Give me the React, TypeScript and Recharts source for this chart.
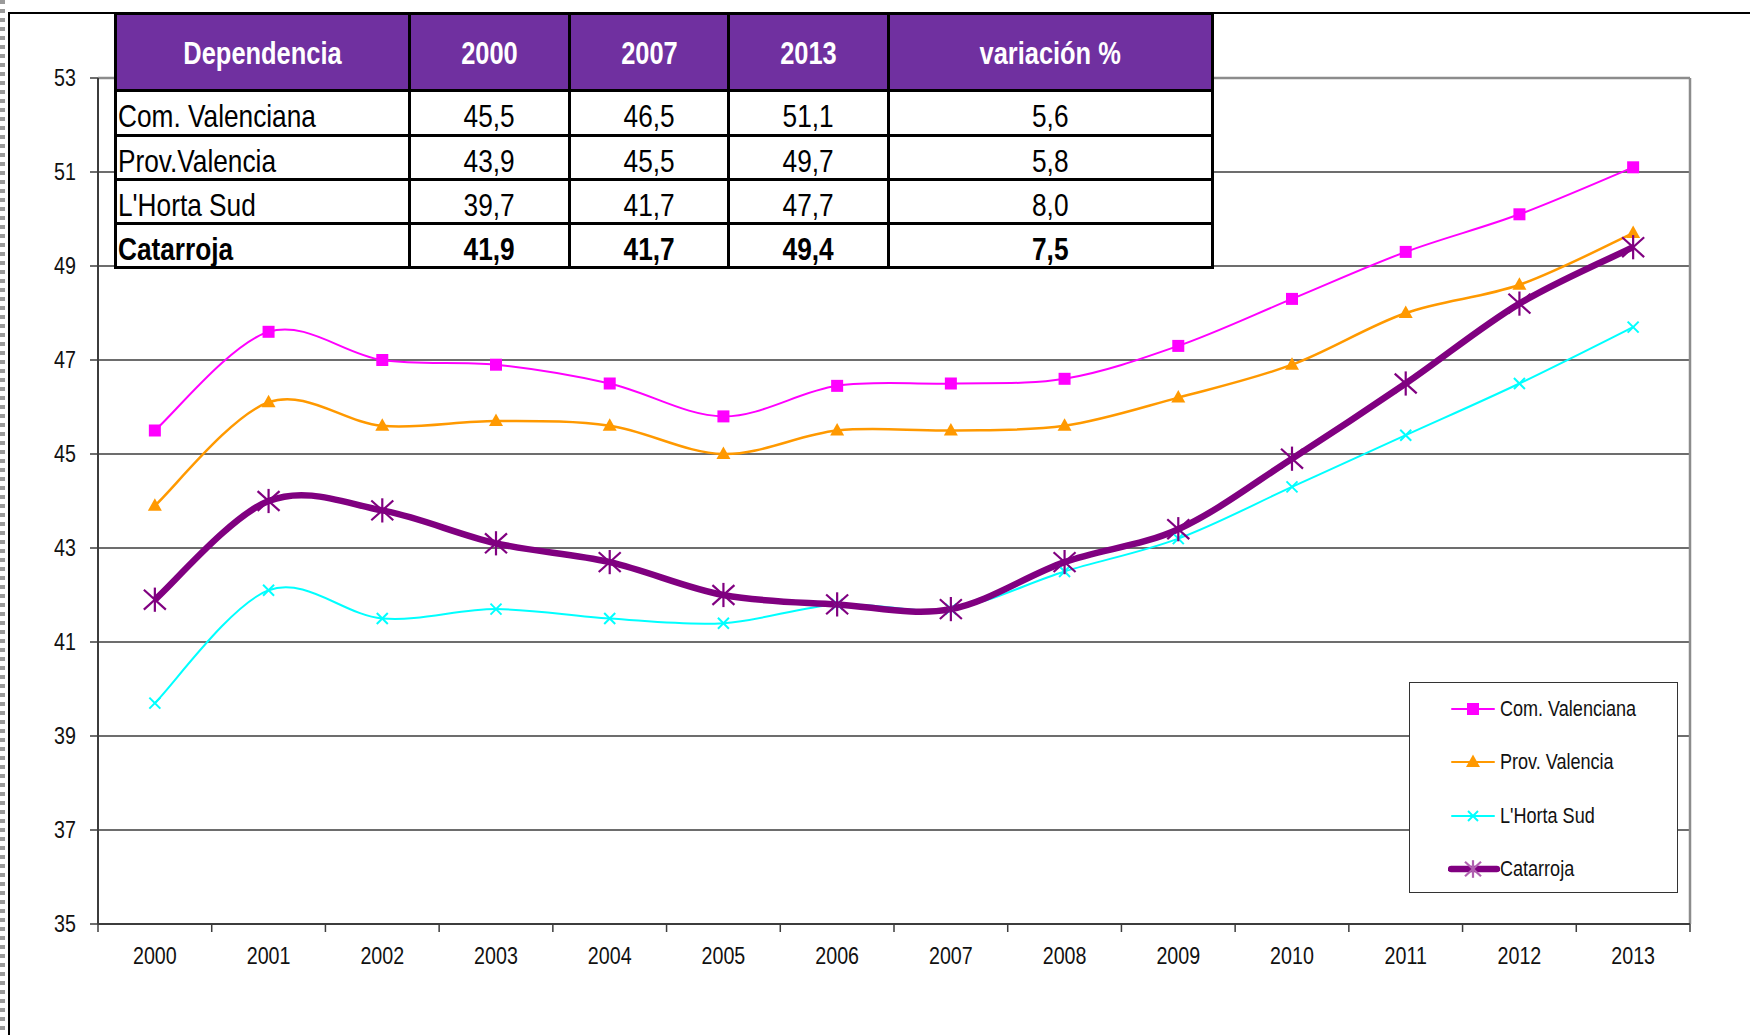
import React from "react";
import { LineChart, Line, XAxis, YAxis, CartesianGrid, Legend } from "recharts";

// ---- data ----
const YEARS = ["2000", "2001", "2002", "2003", "2004", "2005", "2006", "2007", "2008", "2009", "2010", "2011", "2012", "2013"];
const COM_VALENCIANA = [45.5, 47.6, 47.0, 46.9, 46.5, 45.8, 46.45, 46.5, 46.6, 47.3, 48.3, 49.3, 50.1, 51.1];
const PROV_VALENCIA = [43.9, 46.1, 45.6, 45.7, 45.6, 45.0, 45.5, 45.5, 45.6, 46.2, 46.9, 48.0, 48.6, 49.7];
const HORTA_SUD = [39.7, 42.1, 41.5, 41.7, 41.5, 41.4, 41.8, 41.7, 42.5, 43.2, 44.3, 45.4, 46.5, 47.7];
const CATARROJA = [41.9, 44.0, 43.8, 43.1, 42.7, 42.0, 41.8, 41.7, 42.7, 43.4, 44.9, 46.5, 48.2, 49.4];
const Y_TICKS = [35, 37, 39, 41, 43, 45, 47, 49, 51, 53];

const TABLE_HEAD = ["Dependencia", "2000", "2007", "2013", "variación %"];
const TABLE_ROWS = [
  ["Com. Valenciana", "45,5", "46,5", "51,1", "5,6"],
  ["Prov.Valencia", "43,9", "45,5", "49,7", "5,8"],
  ["L'Horta Sud", "39,7", "41,7", "47,7", "8,0"],
  ["Catarroja", "41,9", "41,7", "49,4", "7,5"],
];

const rows = YEARS.map((year, i) => ({
  year,
  com: COM_VALENCIANA[i],
  prov: PROV_VALENCIA[i],
  horta: HORTA_SUD[i],
  cat: CATARROJA[i],
}));

// ---- style ----
// Arial Narrow look: Liberation Sans squeezed horizontally
const FONT = '"Liberation Sans", Arial, sans-serif';
const SQUEEZE = 0.82;
const MAGENTA = "#ff00ff";
const ORANGE = "#ff9900";
const CYAN = "#00ffff";
const PURPLE = "#800080";
const AXIS = "#3c3c3c";
const PURPLE_HEAD = "#7030a0";

// Excel-like smoothing (cardinal spline, tension 0)
function excelCurve(ctx: any) {
  let pts: number[][] = [];
  return {
    areaStart() {},
    areaEnd() {},
    lineStart() {
      pts = [];
    },
    point(x: number, y: number) {
      pts.push([+x, +y]);
    },
    lineEnd() {
      if (!pts.length) return;
      ctx.moveTo(pts[0][0], pts[0][1]);
      for (let i = 0; i < pts.length - 1; i++) {
        const p0 = pts[i - 1] || pts[i];
        const p1 = pts[i];
        const p2 = pts[i + 1];
        const p3 = pts[i + 2] || p2;
        ctx.bezierCurveTo(
          p1[0] + (p2[0] - p0[0]) / 6,
          p1[1] + (p2[1] - p0[1]) / 6,
          p2[0] - (p3[0] - p1[0]) / 6,
          p2[1] - (p3[1] - p1[1]) / 6,
          p2[0],
          p2[1]
        );
      }
    },
  };
}

function SquareMark({ cx, cy, color, size = 12 }: any) {
  return <rect x={cx - size / 2} y={cy - size / 2} width={size} height={size} fill={color} />;
}
function TriangleMark({ cx, cy, color }: any) {
  return <polygon points={`${cx},${cy - 7.5} ${cx + 7},${cy + 5} ${cx - 7},${cy + 5}`} fill={color} />;
}
function CrossMark({ cx, cy, color, r = 5.5 }: any) {
  return (
    <g stroke={color} strokeWidth={2}>
      <line x1={cx - r} y1={cy - r} x2={cx + r} y2={cy + r} />
      <line x1={cx - r} y1={cy + r} x2={cx + r} y2={cy - r} />
    </g>
  );
}
function StarMark({ cx, cy, color, r = 11 }: any) {
  return (
    <g stroke={color} strokeWidth={2.2}>
      <line x1={cx - r} y1={cy - r * 0.9} x2={cx + r} y2={cy + r * 0.9} />
      <line x1={cx - r} y1={cy + r * 0.9} x2={cx + r} y2={cy - r * 0.9} />
      <line x1={cx} y1={cy - r * 1.1} x2={cx} y2={cy + r * 1.1} />
    </g>
  );
}

const SERIES = [
  { key: "com", name: "Com. Valenciana", color: MAGENTA, width: 2, Mark: SquareMark },
  { key: "prov", name: "Prov. Valencia", color: ORANGE, width: 2.5, Mark: TriangleMark },
  { key: "horta", name: "L'Horta Sud", color: CYAN, width: 2, Mark: CrossMark },
  { key: "cat", name: "Catarroja", color: PURPLE, width: 6.5, Mark: StarMark },
];

function NarrowText({ x, y, anchor, dy, children }: any) {
  return (
    <text
      transform={`translate(${x},${y}) scale(${SQUEEZE},1)`}
      dy={dy}
      textAnchor={anchor}
      fontSize={24}
      fill="#111"
      fontFamily={FONT}
    >
      {children}
    </text>
  );
}

function YearTick(props: any) {
  const { x, y, payload, index, visibleTicksCount } = props;
  const half = payload?.offset || 56.85;
  const top = y - 24;
  return (
    <g>
      <line x1={x - half} y1={top} x2={x - half} y2={top + 8} stroke={AXIS} strokeWidth={1.5} />
      {index === visibleTicksCount - 1 && (
        <line x1={x + half} y1={top} x2={x + half} y2={top + 8} stroke={AXIS} strokeWidth={1.5} />
      )}
      <NarrowText x={x} y={y - 1} anchor="middle" dy="0.71em">
        {payload.value}
      </NarrowText>
    </g>
  );
}

function ValueTick(props: any) {
  const { x, y, payload } = props;
  return (
    <NarrowText x={x} y={y} anchor="end" dy="0.35em">
      {payload.value}
    </NarrowText>
  );
}

function Squeezed({ children, origin }: any) {
  return (
    <span style={{ display: "inline-block", transform: `scaleX(${SQUEEZE})`, transformOrigin: origin, whiteSpace: "nowrap" }}>
      {children}
    </span>
  );
}

function LegendBox() {
  return (
    <div
      style={{
        width: 269,
        height: 211,
        boxSizing: "border-box",
        border: "1.5px solid #333",
        background: "#fff",
        position: "relative",
        fontFamily: FONT,
      }}
    >
      {SERIES.map((s, i) => {
        const Mark = s.Mark;
        return (
          <div
            key={s.key}
            style={{ position: "absolute", left: 38, top: 26 + i * 53.3 - 15, height: 30, display: "flex", alignItems: "center" }}
          >
            <svg width={52} height={30}>
              <line
                x1={s.key === "cat" ? 3 : 4}
                y1={15}
                x2={s.key === "cat" ? 49 : 46}
                y2={15}
                stroke={s.color}
                strokeWidth={s.key === "cat" ? 6.5 : 2}
                strokeLinecap="round"
              />
              <Mark cx={25} cy={15} color={s.key === "cat" ? "#b060b0" : s.color} size={12} r={s.key === "cat" ? 8 : 5} />
            </svg>
            <span style={{ fontSize: 22, color: "#111" }}>
              <Squeezed origin="left center">{s.name}</Squeezed>
            </span>
          </div>
        );
      })}
    </div>
  );
}

const COL_W = [294, 160, 159, 160, 324];
const ROW_H = [77, 45, 44, 44, 44];

function DataTable() {
  const cellBorder = "3px solid #000";
  return (
    <table
      style={{
        position: "absolute",
        left: 114,
        top: 12,
        width: 1097,
        borderCollapse: "collapse",
        tableLayout: "fixed",
        fontFamily: FONT,
        background: "#fff",
      }}
    >
      <colgroup>
        {COL_W.map((w, i) => (
          <col key={i} style={{ width: w }} />
        ))}
      </colgroup>
      <tbody>
        <tr style={{ height: ROW_H[0] }}>
          {TABLE_HEAD.map((h) => (
            <td
              key={h}
              style={{
                background: PURPLE_HEAD,
                color: "#fff",
                fontWeight: 700,
                fontSize: 31,
                textAlign: "center",
                border: cellBorder,
                padding: "2px 0 0 0",
                lineHeight: 1,
              }}
            >
              <Squeezed origin="center">{h}</Squeezed>
            </td>
          ))}
        </tr>
        {TABLE_ROWS.map((r, ri) => (
          <tr key={r[0]} style={{ height: ROW_H[ri + 1] }}>
            {r.map((c, ci) => (
              <td
                key={ci}
                style={{
                  border: cellBorder,
                  padding: ci === 0 ? "6px 0 0 1px" : "6px 0 0 0",
                  textAlign: ci === 0 ? "left" : "center",
                  fontSize: 32,
                  fontWeight: ri === 3 ? 700 : 400,
                  color: "#000",
                  lineHeight: 1,
                  whiteSpace: "nowrap",
                }}
              >
                <Squeezed origin={ci === 0 ? "left center" : "center"}>{c}</Squeezed>
              </td>
            ))}
          </tr>
        ))}
      </tbody>
    </table>
  );
}

export default function App() {
  return (
    <div style={{ position: "absolute", left: 0, top: 0, width: 1750, height: 1035, background: "#fff", overflow: "hidden" }}>
      <div
        style={{
          position: "absolute",
          left: 0,
          top: 0,
          width: 5,
          height: 1035,
          background: "repeating-linear-gradient(to bottom, #9a9a9a 0px, #9a9a9a 4px, transparent 4px, transparent 9px)",
        }}
      />
      <div style={{ position: "absolute", left: 8, top: 12, width: 1742, height: 2, background: "#000" }} />
      <div style={{ position: "absolute", left: 8, top: 12, width: 2, height: 1023, background: "#000" }} />
      <div style={{ position: "absolute", left: 0, top: 0 }}>
        <LineChart width={1750} height={1035} data={rows} margin={{ top: 78, right: 60, left: 0, bottom: 51 }}>
          <CartesianGrid vertical={false} stroke={AXIS} strokeWidth={1.3} />
          <CartesianGrid
            horizontalCoordinatesGenerator={({ offset }: any) => [offset.top]}
            verticalCoordinatesGenerator={({ offset }: any) => [offset.left + offset.width]}
            stroke="#8c8c8c"
            strokeWidth={2.5}
          />
          <XAxis
            dataKey="year"
            scale="band"
            interval={0}
            height={60}
            tickSize={8}
            tickMargin={16}
            tickLine={false}
            axisLine={{ stroke: AXIS, strokeWidth: 2 }}
            tick={<YearTick />}
          />
          <YAxis
            domain={[35, 53]}
            ticks={Y_TICKS}
            interval={0}
            width={98}
            tickSize={8}
            tickMargin={14}
            axisLine={{ stroke: AXIS, strokeWidth: 2 }}
            tickLine={{ stroke: AXIS, strokeWidth: 1.5 }}
            tick={<ValueTick />}
            allowDataOverflow
          />
          {SERIES.map((s) => (
            <Line
              key={s.key}
              dataKey={s.key}
              name={s.name}
              type={excelCurve as any}
              stroke={s.color}
              strokeWidth={s.width}
              dot={(p: any) => <s.Mark key={`${s.key}-${p.index}`} cx={p.cx} cy={p.cy} color={s.color} />}
              activeDot={false}
              isAnimationActive={false}
            />
          ))}
          <Legend
            layout="vertical"
            align="center"
            verticalAlign="middle"
            wrapperStyle={{ left: 1409, top: 682, width: 269, height: 211 }}
            content={() => <LegendBox />}
          />
        </LineChart>
      </div>
      <DataTable />
    </div>
  );
}
